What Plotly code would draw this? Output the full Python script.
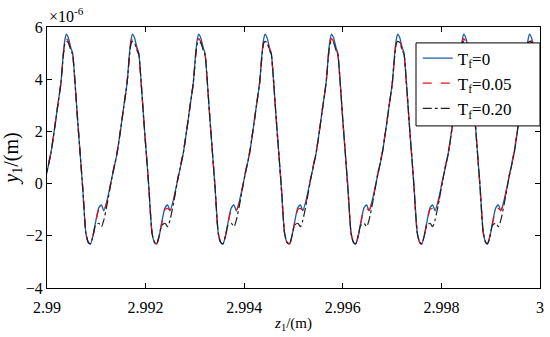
import plotly.graph_objects as go

# positions (z, m) of each trough of the periodic response
trough_z = [2.989540, 2.990882, 2.992225, 2.993570, 2.994919, 2.996262, 2.997601, 2.998935]

# one cycle, offsets after a trough (units of 1e-5 m) and y1 values (units of 1e-6 m)
cycle_dz = [0.0, 5.1, 10.1, 16.8, 22.3, 27.0, 33.7, 43.8, 54.0, 60.9, 67.5, 74.2, 79.1,
            82.1, 85.2, 89.2, 94.5, 98.0, 101.4, 108.1, 118.2, 124.9, 129.8]
y_tf0 = [-2.31, -2.00, -1.50, -0.93, -0.82, -1.04, -0.63, 0.26, 1.17, 2.05, 2.95, 3.85, 5.00,
         5.50, 5.73, 5.60, 5.20, 5.00, 4.24, 2.44, -0.10, -1.90, -2.25]
y_tf005 = [-2.31, -2.00, -1.55, -1.00, -0.95, -1.02, -0.70, 0.30, 1.22, 2.05, 2.95, 3.85, 4.95,
           5.40, 5.55, 5.45, 5.15, 4.95, 4.24, 2.44, -0.10, -1.90, -2.25]
y_tf020 = [-2.31, -2.00, -1.60, -1.52, -1.65, -1.40, -0.80, 0.26, 1.17, 2.05, 2.95, 3.85, 4.90,
           5.35, 5.45, 5.40, 5.10, 4.95, 4.24, 2.44, -0.10, -1.90, -2.25]

series_names = ["T<sub>f</sub>=0", "T<sub>f</sub>=0.05", "T<sub>f</sub>=0.20"]
x_ticks = [2.99, 2.992, 2.994, 2.996, 2.998, 3.0]
x_tick_text = ["2.99", "2.992", "2.994", "2.996", "2.998", "3"]
y_ticks = [-4, -2, 0, 2, 4, 6]


def build(cycle_vals):
    xs, ys = [], []
    for tz in trough_z:
        for dz, v in zip(cycle_dz, cycle_vals):
            xs.append(tz + dz * 1e-5)
            ys.append(v)
    return xs, ys


styles = [
    dict(color="#1a5ea8", dash="solid", width=1.3),
    dict(color="#e8141c", dash="dash", width=1.3),
    dict(color="#202020", dash="dashdot", width=1.2),
]

fig = go.Figure()
for name, vals, st in zip(series_names, [y_tf0, y_tf005, y_tf020], styles):
    xs, ys = build(vals)
    fig.add_trace(go.Scatter(x=xs, y=ys, mode="lines", name=name,
                             line=dict(shape="spline", smoothing=0.6, **st)))

font_family = "Liberation Serif"
fig.update_layout(
    width=550, height=337,
    margin=dict(l=47, r=10, t=27, b=49, autoexpand=False),
    paper_bgcolor="white", plot_bgcolor="white",
    font=dict(family=font_family, size=16, color="black"),
    showlegend=True,
    legend=dict(x=0.752, y=0.948, xanchor="left", yanchor="top",
                bgcolor="rgba(0,0,0,0)", borderwidth=0,
                font=dict(family=font_family, size=17, color="black"),
                tracegroupgap=0),
    shapes=[dict(type="rect", xref="paper", yref="paper", x0=0.7485, x1=1.0,
                 y0=0.621, y1=0.939, fillcolor="white",
                 line=dict(color="black", width=1), layer="above")],
    xaxis=dict(range=[2.99, 3.0], tickvals=x_ticks, ticktext=x_tick_text,
               showline=True, linecolor="black", linewidth=1, mirror="ticks",
               ticks="inside", ticklen=5, tickcolor="black", showgrid=False,
               zeroline=False, automargin=False, ticklabelstandoff=5,
               title=dict(text="<i>z</i><sub>1</sub>/(m)", font=dict(size=15), standoff=2)),
    yaxis=dict(range=[-4, 6], tickvals=y_ticks,
               showline=True, linecolor="black", linewidth=1, mirror="ticks",
               ticks="inside", ticklen=5, tickcolor="black", showgrid=False,
               zeroline=False, automargin=False,
               title=dict(text="<i>y</i><sub>1</sub>/(m)", font=dict(size=20), standoff=2)),
    annotations=[dict(text="\u00d710<sup>-6</sup>", x=0.0, y=1.0, xref="paper", yref="paper",
                      xanchor="left", yanchor="bottom", showarrow=False,
                      font=dict(family=font_family, size=16, color="black"), yshift=0)],
)

fig.write_html("out.html", config={"displayModeBar": False})
with open("out.html", "r", encoding="utf-8") as f:
    html = f.read()
html = html.replace("<body>", '<body style="margin:0;padding:0;">', 1)
with open("out.html", "w", encoding="utf-8") as f:
    f.write(html)
